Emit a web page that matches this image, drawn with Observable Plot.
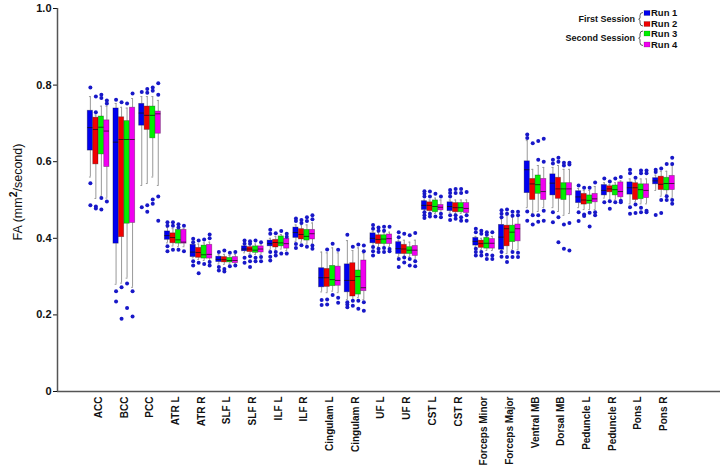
<!DOCTYPE html>
<html>
<head>
<meta charset="utf-8">
<script src="https://cdn.jsdelivr.net/npm/d3@7"></script>
<script src="https://cdn.jsdelivr.net/npm/@observablehq/plot@0.6"></script>
<style>
  html, body { margin: 0; padding: 0; background: #fff; }
  #chart { width: 724px; height: 466px; }
</style>
</head>
<body>
<div id="chart"></div>
<script>
const regions = ["ACC","BCC","PCC","ATR L","ATR R","SLF L","SLF R","ILF L","ILF R","Cingulam L","Cingulam R","UF L","UF R","CST L","CST R","Forceps Minor","Forceps Major","Ventral MB","Dorsal MB","Peduncle L","Peduncle R","Pons L","Pons R"];
const runs = ["Run 1","Run 2","Run 3","Run 4"];
const sessions = ["First Session","Second Session"];
const yTicks = [0, 0.2, 0.4, 0.6, 0.8, 1.0];
const yTickLabels = ["0","0.2","0.4","0.6","0.8","1.0"];
const yTitle = ["FA (mm", "2", "/second)"];

// per region: [lower whisker, Q1, median, Q3, upper whisker]
const run1 = [
  [0.560,0.629,0.689,0.733,0.770],[0.280,0.386,0.651,0.739,0.752],[0.538,0.694,0.727,0.751,0.770],
  [0.388,0.396,0.407,0.418,0.428],[0.349,0.351,0.364,0.383,0.386],[0.333,0.338,0.345,0.352,0.358],
  [0.362,0.366,0.372,0.379,0.383],[0.370,0.379,0.386,0.394,0.400],[0.392,0.401,0.415,0.428,0.435],
  [0.260,0.272,0.297,0.322,0.364],[0.240,0.259,0.290,0.332,0.394],[0.380,0.387,0.400,0.413,0.418],
  [0.352,0.359,0.373,0.390,0.395],[0.470,0.474,0.486,0.497,0.500],[0.468,0.471,0.483,0.494,0.500],
  [0.378,0.381,0.392,0.401,0.405],[0.368,0.370,0.403,0.435,0.450],[0.480,0.518,0.579,0.601,0.655],
  [0.480,0.512,0.544,0.567,0.585],[0.480,0.492,0.508,0.523,0.530],[0.505,0.512,0.525,0.539,0.545],
  [0.490,0.514,0.532,0.546,0.555],[0.525,0.541,0.550,0.557,0.565]
];
const run2 = [
  [0.504,0.593,0.684,0.715,0.722],[0.283,0.403,0.658,0.716,0.742],[0.543,0.683,0.721,0.744,0.770],
  [0.380,0.387,0.402,0.413,0.425],[0.345,0.349,0.363,0.375,0.385],[0.332,0.337,0.344,0.351,0.358],
  [0.360,0.364,0.372,0.377,0.383],[0.370,0.376,0.389,0.396,0.405],[0.390,0.397,0.410,0.424,0.435],
  [0.258,0.273,0.297,0.320,0.362],[0.238,0.248,0.290,0.335,0.368],[0.378,0.385,0.397,0.408,0.415],
  [0.352,0.359,0.372,0.383,0.395],[0.468,0.471,0.486,0.494,0.500],[0.465,0.468,0.480,0.492,0.500],
  [0.370,0.375,0.386,0.394,0.400],[0.360,0.379,0.425,0.433,0.460],[0.465,0.500,0.542,0.555,0.580],
  [0.470,0.503,0.529,0.558,0.590],[0.475,0.488,0.500,0.516,0.525],[0.500,0.520,0.529,0.536,0.540],
  [0.495,0.500,0.532,0.544,0.550],[0.510,0.526,0.541,0.561,0.575]
];
const run3 = [
  [0.510,0.619,0.690,0.718,0.745],[0.296,0.438,0.658,0.706,0.740],[0.560,0.661,0.721,0.744,0.770],
  [0.378,0.386,0.396,0.422,0.425],[0.342,0.347,0.357,0.381,0.388],[0.333,0.337,0.342,0.349,0.355],
  [0.358,0.362,0.369,0.379,0.385],[0.372,0.379,0.388,0.405,0.410],[0.385,0.394,0.405,0.422,0.435],
  [0.262,0.275,0.292,0.328,0.375],[0.245,0.253,0.300,0.316,0.375],[0.378,0.385,0.398,0.408,0.415],
  [0.352,0.359,0.369,0.377,0.390],[0.465,0.468,0.483,0.499,0.505],[0.465,0.468,0.480,0.492,0.500],
  [0.368,0.373,0.387,0.401,0.403],[0.370,0.390,0.416,0.433,0.455],[0.470,0.516,0.540,0.564,0.590],
  [0.460,0.500,0.529,0.544,0.580],[0.475,0.490,0.499,0.512,0.525],[0.500,0.512,0.527,0.538,0.545],
  [0.490,0.502,0.527,0.541,0.555],[0.515,0.525,0.543,0.558,0.575]
];
const run4 = [
  [0.505,0.586,0.680,0.708,0.745],[0.272,0.440,0.658,0.741,0.765],[0.538,0.673,0.725,0.731,0.760],
  [0.378,0.386,0.390,0.422,0.425],[0.342,0.347,0.358,0.383,0.390],[0.333,0.335,0.342,0.351,0.358],
  [0.358,0.363,0.372,0.379,0.385],[0.368,0.373,0.386,0.399,0.400],[0.385,0.397,0.412,0.422,0.440],
  [0.258,0.276,0.290,0.326,0.362],[0.240,0.262,0.271,0.342,0.360],[0.378,0.385,0.399,0.410,0.416],
  [0.345,0.354,0.369,0.380,0.395],[0.468,0.473,0.481,0.487,0.500],[0.463,0.466,0.478,0.492,0.500],
  [0.368,0.373,0.387,0.398,0.405],[0.370,0.392,0.425,0.436,0.458],[0.480,0.500,0.522,0.555,0.585],
  [0.465,0.512,0.529,0.544,0.580],[0.475,0.494,0.503,0.516,0.535],[0.500,0.507,0.522,0.546,0.550],
  [0.490,0.505,0.525,0.541,0.555],[0.505,0.526,0.543,0.563,0.590]
];

// outliers per region
const out1 = [
  [0.794,0.544,0.486],[0.762,0.262,0.235],[0.782,0.481],
  [0.442,0.433,0.379,0.366],[0.399,0.390,0.340,0.329],[0.364,0.325,0.316],
  [0.394,0.386,0.349,0.336],[0.422,0.412,0.364,0.352,0.342],[0.452,0.445,0.385,0.375],
  [0.239,0.226],[0.409,0.233,0.227,0.220],[0.435,0.425,0.377,0.366,0.355],
  [0.416,0.403,0.346,0.325],[0.523,0.516,0.509,0.468,0.460,0.453],[0.526,0.518,0.509,0.460,0.448],
  [0.425,0.416,0.373,0.364,0.355],[0.473,0.464,0.455,0.364,0.352],[0.671,0.662,0.470,0.446],
  [0.605,0.595,0.468,0.442],[0.538,0.468,0.445],[0.556,0.494],
  [0.579,0.570,0.481,0.464],[0.579,0.573,0.461]
];
const out2 = [
  [0.770,0.729,0.483,0.478],[0.755,0.272,0.190],[0.790,0.780,0.486,0.469],
  [0.442,0.433,0.370],[0.394,0.336,0.309],[0.368,0.320,0.313],
  [0.392,0.386,0.353,0.340,0.325],[0.413,0.364,0.355],[0.448,0.440,0.382],
  [0.371,0.240,0.227],[0.378,0.237,0.224],[0.428,0.420,0.373,0.364],
  [0.412,0.350,0.337],[0.522,0.509,0.464,0.457],[0.529,0.518,0.460,0.451],
  [0.420,0.412,0.364,0.355],[0.475,0.464,0.351,0.338],[0.648,0.460,0.436],
  [0.610,0.600,0.455,0.390],[0.532,0.462,0.458],[0.548,0.497,0.477],
  [0.558,0.488,0.466],[0.582,0.500,0.466]
];
const out3 = [
  [0.775,0.766,0.505,0.475],[0.752,0.282,0.218],[0.794,0.785,0.501,0.490],
  [0.437,0.428,0.370],[0.397,0.333],[0.362,0.327],
  [0.394,0.349,0.340],[0.419,0.360],[0.455,0.445,0.378],
  [0.386,0.252],[0.384,0.237,0.216],[0.430,0.420,0.375,0.364],
  [0.408,0.346,0.329],[0.516,0.457],[0.529,0.518,0.455,0.446],
  [0.416,0.409,0.357,0.346],[0.469,0.459,0.364,0.351],[0.654,0.605,0.460,0.443],
  [0.597,0.590,0.436,0.373],[0.532,0.467,0.431],[0.556,0.494],
  [0.577,0.570,0.480,0.468],[0.594,0.510,0.500]
];
const out4 = [
  [0.760,0.752,0.496],[0.778,0.262,0.196],[0.805,0.775,0.509,0.446],
  [0.433,0.366],[0.410,0.400,0.338,0.329],[0.364,0.329],
  [0.390,0.351,0.340],[0.412,0.404,0.360],[0.460,0.450,0.381,0.373],
  [0.370,0.245,0.232],[0.381,0.366,0.233,0.211],[0.430,0.372,0.366],
  [0.414,0.340,0.327],[0.509,0.464,0.455],[0.521,0.460,0.446],
  [0.416,0.355,0.346],[0.469,0.460,0.362,0.351],[0.660,0.600,0.472,0.446],
  [0.597,0.593,0.440,0.368],[0.546,0.468,0.460],[0.560,0.498,0.494],
  [0.577,0.570,0.472,0.468],[0.610,0.594,0.500,0.490]
];

// ---- styling / layout constants ----
const runColors = ["#0000f0", "#f00000", "#00f000", "#f000f0"];
const outlierColor = "#1818c8";
const xDomain = [-1.6, 24.2];
const runStep = 0.214;
const boxHalf = 0.102;
const capHalf = 0.035;

const stats = [run1, run2, run3, run4];
const outs = [out1, out2, out3, out4];
const rows = stats.flatMap((s, r) => s.map((v, i) => ({
  region: regions[i], run: runs[r], x: i + (r - 1.5) * runStep,
  lo: v[0], q1: v[1], med: v[2], q3: v[3], hi: v[4]
})));
const outRows = outs.flatMap((o, r) => o.flatMap((vals, i) => vals.map(v => ({
  region: regions[i], run: runs[r], x: i + (r - 1.5) * runStep, v
}))));

const chart = Plot.plot({
  width: 724, height: 466,
  marginLeft: 57, marginRight: 4, marginTop: 8, marginBottom: 75,
  style: {fontFamily: "'Liberation Sans', Arial, sans-serif", fontSize: "11px", fontWeight: "bold", color: "#111", background: "#fff"},
  x: {domain: xDomain, ticks: regions.map((d, i) => i), tickFormat: i => regions[i], tickRotate: -90, tickSize: 0, tickPadding: 5, label: null},
  y: {domain: [0, 1], ticks: yTicks, tickFormat: d => yTickLabels[yTicks.indexOf(d)], tickSize: 4, tickPadding: 2, label: null},
  color: {domain: runs, range: runColors},
  marks: [
    Plot.ruleX(rows, {x: "x", y1: "lo", y2: "q1", stroke: "#999", strokeWidth: 1}),
    Plot.ruleX(rows, {x: "x", y1: "q3", y2: "hi", stroke: "#999", strokeWidth: 1}),
    Plot.ruleY(rows, {y: "lo", x1: d => d.x - capHalf, x2: d => d.x + capHalf, stroke: "#999", strokeWidth: 1}),
    Plot.ruleY(rows, {y: "hi", x1: d => d.x - capHalf, x2: d => d.x + capHalf, stroke: "#999", strokeWidth: 1}),
    Plot.rect(rows, {x1: d => d.x - boxHalf, x2: d => d.x + boxHalf, y1: "q1", y2: "q3", fill: "run", stroke: "#000", strokeOpacity: 0.35, strokeWidth: 0.8}),
    Plot.ruleY(rows, {y: "med", x1: d => d.x - boxHalf, x2: d => d.x + boxHalf, stroke: "#111", strokeOpacity: 0.75, strokeWidth: 1}),
    Plot.dot(outRows, {x: "x", y: "v", r: 2, fill: outlierColor, stroke: "none"}),
    Plot.ruleY([0], {stroke: "#555", strokeWidth: 1.5}),
    Plot.ruleX([xDomain[0]], {stroke: "#555", strokeWidth: 1.5})
  ]
});

const svg = d3.select(chart);
svg.selectAll('g[aria-label^="x-axis"] text').attr("font-size", 10);

// y-axis title with superscript
const yt = svg.append("text")
  .attr("transform", "translate(22,192) rotate(-90)")
  .attr("text-anchor", "middle")
  .attr("font-size", 12.5).attr("font-weight", "normal").attr("fill", "#111");
yt.append("tspan").text(yTitle[0]);
yt.append("tspan").attr("font-size", 10.5).attr("font-weight", "bold").attr("dy", -5).text(yTitle[1]);
yt.append("tspan").attr("dy", 5).text(yTitle[2]);

// legend
const lg = svg.append("g").attr("font-weight", "bold").attr("fill", "#111");
const legY = [13, 24, 33.5, 44.5];
runs.forEach((r, k) => {
  lg.append("rect").attr("x", 644).attr("y", legY[k] - 2.5).attr("width", 6).attr("height", 5)
    .attr("fill", runColors[k]).attr("stroke", "#000").attr("stroke-opacity", 0.3).attr("stroke-width", 0.6);
  lg.append("text").attr("x", 651).attr("y", legY[k] + 3.4).attr("text-anchor", "start")
    .attr("font-size", 9.5).text(r);
});
const brackets = [[12.5, 26], [31, 45.5]];
sessions.forEach((s, k) => {
  const [a, b] = brackets[k], m = (a + b) / 2;
  lg.append("text").attr("x", 635).attr("y", m + 3.2).attr("text-anchor", "end")
    .attr("font-size", 9).text(s);
  lg.append("path")
    .attr("d", `M643,${a} Q640,${a} 640,${a + 3} V${m - 1} L638.6,${m} L640,${m + 1} V${b - 3} Q640,${b} 643,${b}`)
    .attr("fill", "none").attr("stroke", "#333").attr("stroke-width", 0.8);
});

document.getElementById("chart").appendChild(chart);
</script>
</body>
</html>
